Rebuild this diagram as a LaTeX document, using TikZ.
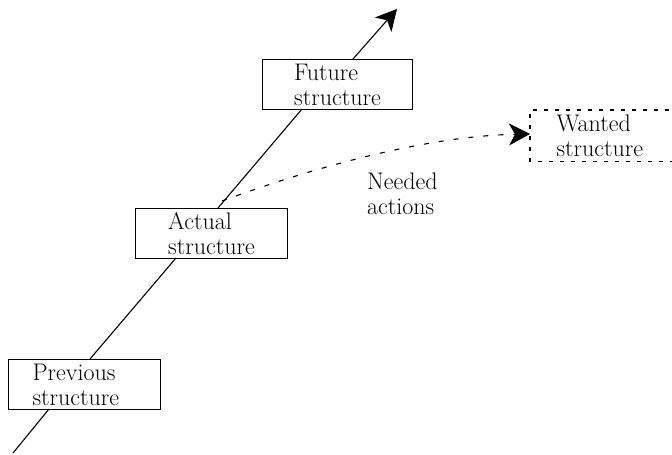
\documentclass[tikz,border=0pt]{standalone}
\usetikzlibrary{arrows.meta}
\begin{document}
\begin{tikzpicture}[x=1pt,y=-1pt,
    stage/.style={draw, line width=1.1pt, rectangle, anchor=north west,
      minimum width=152pt, minimum height=50pt, inner ysep=0pt,
      inner xsep=0pt, align=left,
      font=\fontsize{24}{25}\selectfont},
    label/.style={anchor=north west, inner sep=0pt, align=left,
      font=\fontsize{24}{25}\selectfont},
    trend/.style={line width=1.1pt},
    plan/.style={line width=1.1pt, dash pattern=on 5pt off 10pt},
    tip/.style={-{Stealth[length=21pt,width=22pt,inset=6pt]}}]
  \useasboundingbox (0,0) rectangle (672,455);

  % the structures along the line of development
  \node[stage] (prev) at (8,359) {\makebox[104pt][l]{Previous}\\structure};
  \node[stage] (act) at (135,208) {Actual\\structure};
  \node[stage, minimum width=150pt] (fut) at (262,59) {Future\\structure};

  % the wanted structure, open towards the right edge
  \node[stage, draw=none, minimum width=160pt] (want) at (530,110)
    {\hspace*{26pt}\makebox[134pt][l]{Wanted}\\\hspace*{26pt}structure};
  \draw[line width=1.1pt, dash pattern=on 4pt off 7pt]
    (want.north east) -- (want.north west) -- (want.south west) -- (want.south east);

  \node[label] (need) at (367,173) {Needed\\actions};

  % points where the line meets the boxes
  \coordinate (start) at (13,453);
  \coordinate (prev-in) at (49,409);
  \coordinate (prev-out) at (90,359);
  \coordinate (act-in) at (176,258);
  \coordinate (act-out) at (218,208);
  \coordinate (fut-in) at (302,109);
  \coordinate (fut-out) at (353,59);
  \coordinate (top) at (397,9);

  \draw[trend] (start) -- (prev-in);
  \draw[trend] (prev-out) -- (act-in);
  \draw[trend] (act-out) -- (fut-in);
  \draw[trend, tip] (fut-out) -- (top);

  % the actions leading to the wanted structure
  \coordinate (branch) at (222,201);
  \draw[plan, tip] (branch) .. controls (320,165) and (430,136) .. (want.west |- 0,134);
\end{tikzpicture}
\end{document}
